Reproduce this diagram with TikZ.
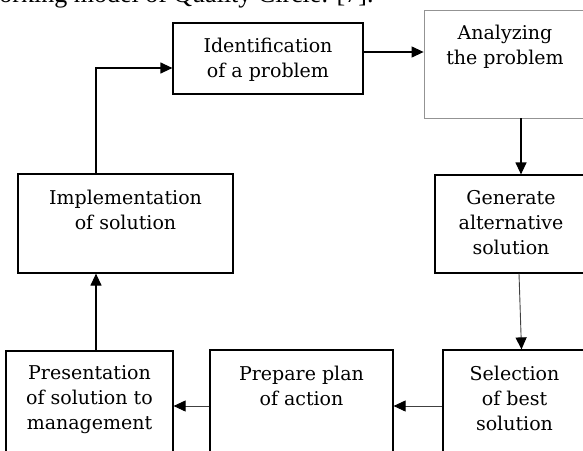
\documentclass[tikz,border=0pt]{standalone}
\usepackage{fontspec}
\setmainfont{DejaVu Serif}
\newfontfamily\capfont{Liberation Serif}
\usetikzlibrary{arrows.meta}
\begin{document}
\begin{tikzpicture}[x=1pt,y=-1pt,
  box/.style={draw, line width=1.2pt, inner sep=0pt},
  lightbox/.style={draw=gray!85, line width=0.8pt, inner sep=0pt},
  txt/.style={anchor=base, inner sep=0pt, align=center, font=\fontsize{19}{25}\selectfont},
  flow/.style={line width=1.2pt, -{Triangle[length=12pt,width=11pt]}},
  thinflow/.style={draw=gray!50!black, line width=0.9pt, -{Triangle[length=12pt,width=11pt,color=black]}}]
\useasboundingbox (0,0) rectangle (583,450);
\node (caption) at (377,2) [anchor=base east, font=\capfont\fontsize{26}{30}\selectfont] {Working model of Quality Circle. [7].};

\node (ident) at (268,58.5) [box, minimum width=190pt, minimum height=71pt] {};
\node (identtxt) at (268,77) [txt] {Identification\\of a problem};
\node (analyze) at (505,64) [lightbox, minimum width=162pt, minimum height=108pt] {};
\node (analyzetxt) at (505,64) [txt] {Analyzing\\the problem};
\node (impl) at (125.5,223.5) [box, minimum width=215pt, minimum height=99pt] {};
\node (impltxt) at (125.5,229) [txt] {Implementation\\of solution};
\node (gen) at (511,224) [box, minimum width=152pt, minimum height=98pt] {};
\node (gentxt) at (511,254) [txt] {Generate\\alternative\\solution};
\node (present) at (89.5,410.5) [box, minimum width=167pt, minimum height=119pt] {};
\node (presenttxt) at (89.5,429) [txt] {Presentation\\of solution to\\management};
\node (prepare) at (301.5,410) [box, minimum width=183pt, minimum height=120pt] {};
\node (preparetxt) at (301.5,405) [txt] {Prepare plan\\of action};
\node (select) at (514.5,410) [box, minimum width=143pt, minimum height=120pt] {};
\node (selecttxt) at (514.5,430) [txt] {Selection\\of best\\solution};

\draw [flow] ([xshift=-29.5pt]impl.north) |- ([yshift=-9.5pt]ident.west);
\draw [flow] ([yshift=6.5pt]ident.east) -- ([yshift=6.5pt]ident.east -| analyze.west);
\draw [flow] ([xshift=16pt]analyze.south) -- ([xshift=16pt]analyze.south |- gen.north);
\draw [thinflow] ([xshift=8pt]gen.south) -- ([xshift=7pt]select.north);
\draw [thinflow] ([yshift=4pt]select.west) -- ([yshift=4pt]select.west -| prepare.east);
\draw [thinflow] ([yshift=4pt]prepare.west) -- ([yshift=4pt]prepare.west -| present.east);
\draw [flow] ([xshift=6.5pt]present.north) -- ([xshift=6.5pt]present.north |- impl.south);
\end{tikzpicture}
\end{document}
